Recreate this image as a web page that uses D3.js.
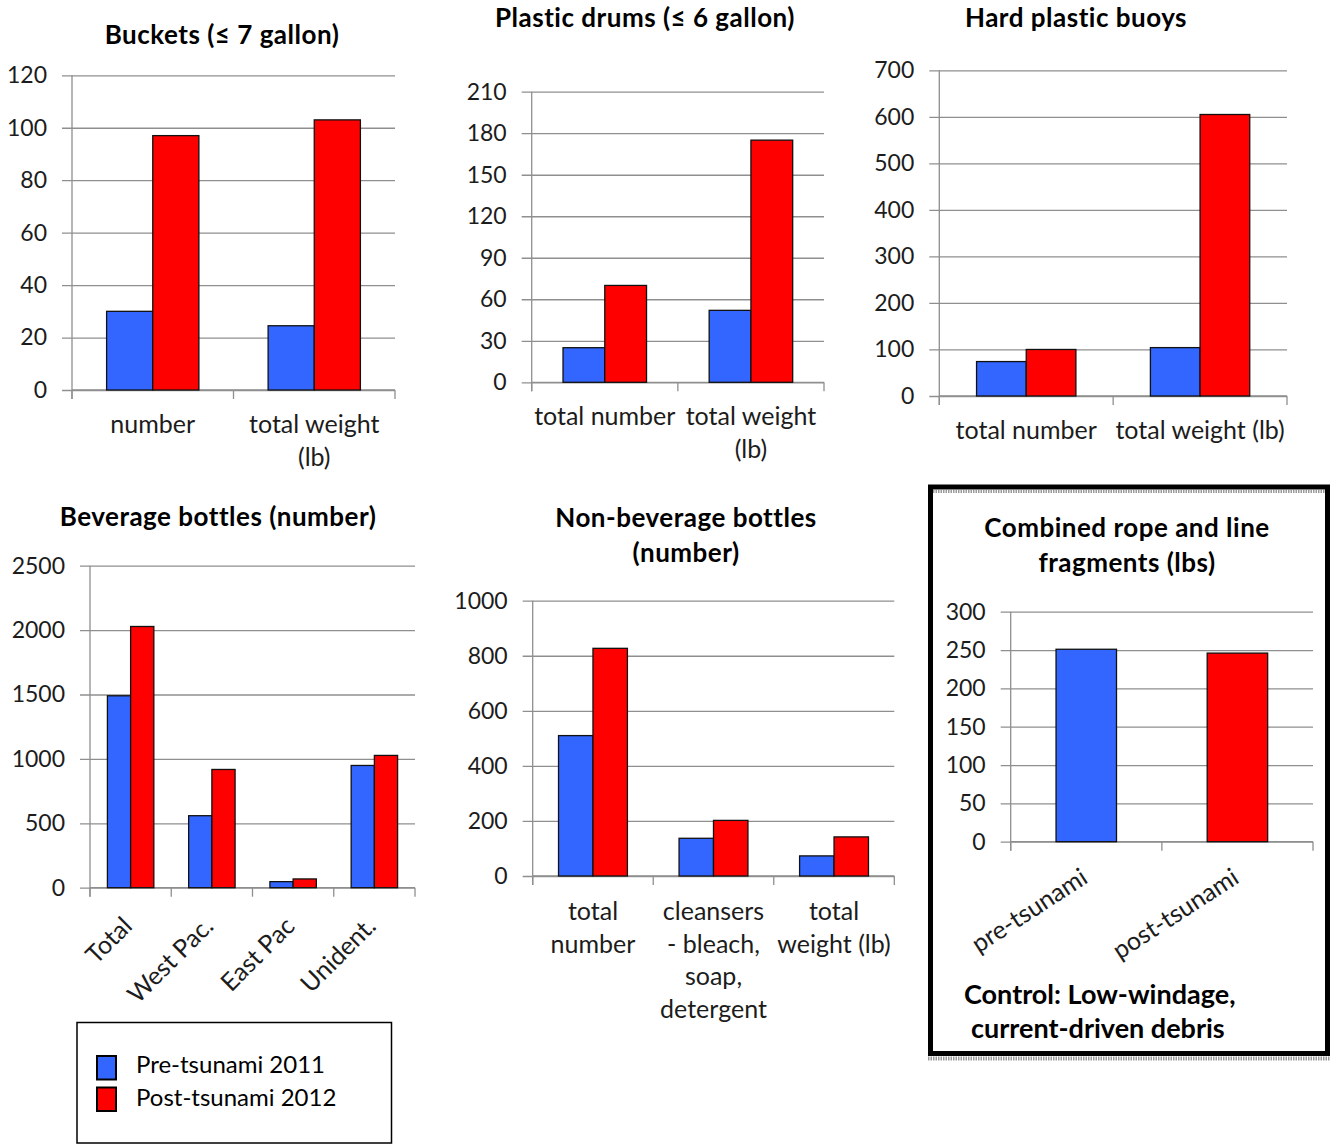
<!DOCTYPE html>
<html>
<head>
<meta charset="utf-8">
<script src="https://cdn.jsdelivr.net/npm/d3@7"></script>
<style>
  body { margin: 0; background: #fff; }
  svg { display: block; font-family: Lato, "Noto Sans", sans-serif; }
</style>
</head>
<body>
<svg id="chart" width="1330" height="1146"></svg>
<script>
// ---- data ----
const seriesNames = ["Pre-tsunami 2011", "Post-tsunami 2012"];
const seriesColors = ["#3366FF", "#FF0000"];

const bucketCategories = ["number", "total weight\n(lb)"];
const bucketPre = [30, 24.5];
const bucketPost = [97, 103];
const bucketTicks = [0, 20, 40, 60, 80, 100, 120];

const drumCategories = ["total number", "total weight\n(lb)"];
const drumPre = [25, 52];
const drumPost = [70, 175];
const drumTicks = [0, 30, 60, 90, 120, 150, 180, 210];

const buoyCategories = ["total number", "total weight (lb)"];
const buoyPre = [74, 104];
const buoyPost = [100, 605];
const buoyTicks = [0, 100, 200, 300, 400, 500, 600, 700];

const beverageCategories = ["Total", "West Pac.", "East Pac", "Unident."];
const beveragePre = [1490, 559, 47, 949];
const beveragePost = [2028, 918, 68, 1027];
const beverageTicks = [0, 500, 1000, 1500, 2000, 2500];

const nonBeverageCategories = ["total\nnumber", "cleansers\n- bleach,\nsoap,\ndetergent", "total\nweight (lb)"];
const nonBeveragePre = [510, 137, 73];
const nonBeveragePost = [827, 202, 142];
const nonBeverageTicks = [0, 200, 400, 600, 800, 1000];

const ropeCategories = ["pre-tsunami", "post-tsunami"];
const ropeValues = [251, 246];
const ropeTicks = [0, 50, 100, 150, 200, 250, 300];

// ---- drawing ----
const svg = d3.select("#chart");
const GRID = "#8f8f8f";
const TEXT = "#1c1c1c";

function drawPanel(p) {
  const g = svg.append("g");
  const y = d3.scaleLinear().domain([0, d3.max(p.ticks)]).range([p.bottom, p.top]);
  const x = d3.scaleBand().domain(p.categories).range([p.left, p.right]).padding(0);
  const sub = d3.scaleBand().domain(d3.range(p.groups)).range([0, x.bandwidth()])
    .paddingInner(0).paddingOuter(0.75);

  // gridlines + tick labels (tick marks extend 10px left of the axis)
  const yAxis = d3.axisLeft(y).tickValues(p.ticks).tickSize(p.right - p.left + 10)
    .tickPadding(15).tickFormat(d3.format("d"));
  const ya = g.append("g").attr("transform", `translate(${p.right},0)`).call(yAxis);
  ya.select(".domain").remove();
  ya.selectAll(".tick line").attr("stroke", GRID).attr("stroke-width", 1.3);
  ya.selectAll(".tick text").attr("fill", TEXT).style("font-size", "23px")
    .style("font-family", "Lato, sans-serif");

  // value axis line
  g.append("line").attr("x1", p.left).attr("x2", p.left)
    .attr("y1", p.top).attr("y2", p.bottom + 9).attr("stroke", GRID).attr("stroke-width", 1.3);
  // category axis line and boundary ticks
  g.append("line").attr("x1", p.left).attr("x2", p.right)
    .attr("y1", p.bottom).attr("y2", p.bottom).attr("stroke", GRID).attr("stroke-width", 1.3);
  const edges = p.categories.map(c => x(c)).concat([p.right]);
  g.selectAll(".edge").data(edges).join("line")
    .attr("x1", d => d).attr("x2", d => d)
    .attr("y1", p.bottom).attr("y2", p.bottom + 9)
    .attr("stroke", GRID).attr("stroke-width", 1.3);

  // bars
  const bars = [];
  p.categories.forEach((c, ci) => {
    p.series.forEach((vals, si) => {
      bars.push({ c, slot: p.groups === 1 ? 0 : si, v: vals[ci], color: p.colors ? p.colors[ci] : seriesColors[si] });
    });
  });
  g.selectAll(".bar").data(bars).join("rect")
    .attr("x", d => x(d.c) + sub(d.slot))
    .attr("width", sub.bandwidth())
    .attr("y", d => y(d.v))
    .attr("height", d => y(0) - y(d.v))
    .attr("fill", d => d.color)
    .attr("stroke", "#111").attr("stroke-width", 1.3);

  // category labels
  p.categories.forEach(c => {
    const cx = x(c) + x.bandwidth() / 2;
    if (p.rotate) {
      g.append("text")
        .attr("transform", `translate(${cx + 3},${p.bottom + 40}) rotate(${p.rotate})`)
        .attr("text-anchor", "end").attr("fill", TEXT).style("font-size", "25px")
        .text(c);
    } else {
      const t = g.append("text").attr("text-anchor", "middle").attr("fill", TEXT)
        .style("font-size", "25px");
      c.split("\n").forEach((line, li) => {
        t.append("tspan").attr("x", cx).attr("y", p.bottom + p.labelOffset + li * 32.5).text(line);
      });
    }
  });

  // title
  p.title.forEach((line, li) => {
    g.append("text").attr("x", p.titleX).attr("y", p.titleY + li * 35)
      .attr("text-anchor", "middle").attr("fill", "#000")
      .style("font-size", "26px").style("font-weight", "bold")
      .style("letter-spacing", "0.5px").text(line);
  });
}

drawPanel({ categories: bucketCategories, series: [bucketPre, bucketPost], groups: 2, ticks: bucketTicks,
  left: 72, right: 395, top: 75.3, bottom: 390, labelOffset: 43,
  title: ["Buckets (\u2264 7 gallon)"], titleX: 222, titleY: 44 });

drawPanel({ categories: drumCategories, series: [drumPre, drumPost], groups: 2, ticks: drumTicks,
  left: 531.7, right: 824, top: 91.7, bottom: 382.3, labelOffset: 43,
  title: ["Plastic drums (\u2264 6 gallon)"], titleX: 645, titleY: 27 });

drawPanel({ categories: buoyCategories, series: [buoyPre, buoyPost], groups: 2, ticks: buoyTicks,
  left: 939.3, right: 1287, top: 70.3, bottom: 396, labelOffset: 43,
  title: ["Hard plastic buoys"], titleX: 1076, titleY: 27 });

drawPanel({ categories: beverageCategories, series: [beveragePre, beveragePost], groups: 2, ticks: beverageTicks,
  left: 90, right: 415, top: 565.7, bottom: 887.7, rotate: -45,
  title: ["Beverage bottles (number)"], titleX: 218, titleY: 526 });

drawPanel({ categories: nonBeverageCategories, series: [nonBeveragePre, nonBeveragePost], groups: 2, ticks: nonBeverageTicks,
  left: 532.7, right: 894.3, top: 600.7, bottom: 876, labelOffset: 44,
  title: ["Non-beverage bottles", "(number)"], titleX: 686, titleY: 527 });

drawPanel({ categories: ropeCategories, series: [ropeValues], groups: 1, colors: seriesColors, ticks: ropeTicks,
  left: 1010.7, right: 1313, top: 611.7, bottom: 841.7, rotate: -33,
  title: ["Combined rope and line", "fragments (lbs)"], titleX: 1127, titleY: 537 });

// control panel frame and note
svg.append("line").attr("x1", 933).attr("x2", 1325).attr("y1", 491.5).attr("y2", 491.5)
  .attr("stroke", "#9a9a9a").attr("stroke-width", 3).attr("stroke-dasharray", "1.5,1");
svg.append("line").attr("x1", 928).attr("x2", 1330).attr("y1", 1058.5).attr("y2", 1058.5)
  .attr("stroke", "#9a9a9a").attr("stroke-width", 4).attr("stroke-dasharray", "1.5,1");
svg.append("rect").attr("x", 930.5).attr("y", 487).attr("width", 397).attr("height", 566.5)
  .attr("fill", "none").attr("stroke", "#000").attr("stroke-width", 5);
const note = svg.append("text").attr("fill", "#000").style("font-size", "27px").style("font-weight", "bold");
note.append("tspan").attr("x", 964).attr("y", 1004).text("Control: Low-windage,");
note.append("tspan").attr("x", 971).attr("y", 1038).text("current-driven debris");

// legend
const legend = svg.append("g");
legend.append("rect").attr("x", 77).attr("y", 1022.5).attr("width", 314.5).attr("height", 120.5)
  .attr("fill", "#fff").attr("stroke", "#000").attr("stroke-width", 1.5);
seriesNames.forEach((name, i) => {
  legend.append("rect").attr("x", 97).attr("y", 1056 + i * 31.5).attr("width", 19).attr("height", 23.5)
    .attr("fill", seriesColors[i]).attr("stroke", "#000").attr("stroke-width", 2);
  legend.append("text").attr("x", 136).attr("y", 1073 + i * 32.5).attr("fill", "#000")
    .style("font-size", "24px").text(name);
});
</script>
</body>
</html>
